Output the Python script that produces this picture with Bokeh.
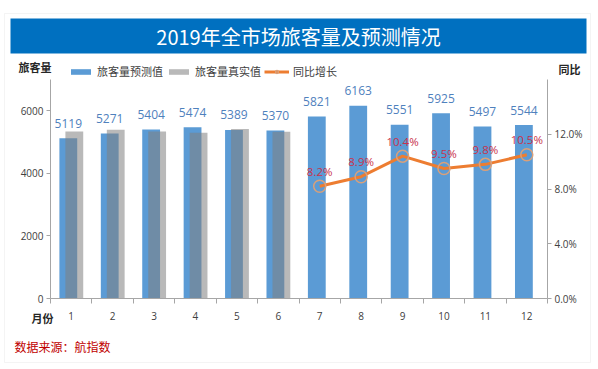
from bokeh.plotting import figure
from bokeh.models import (ColumnDataSource, Range1d, LinearAxis, FixedTicker, NumeralTickFormatter,
                          Label, BoxAnnotation, Legend, LegendItem)
from bokeh.transform import dodge
from bokeh.core.properties import value
from bokeh.embed import file_html
from bokeh.resources import INLINE

# ---- data ----
months = [1, 2, 3, 4, 5, 6, 7, 8, 9, 10, 11, 12]
forecast = [5119, 5271, 5404, 5474, 5389, 5370, 5821, 6163, 5551, 5925, 5497, 5544]
actual_months = [1, 2, 3, 4, 5, 6]
actual = [5340, 5390, 5340, 5300, 5420, 5330]
growth_months = [7, 8, 9, 10, 11, 12]
growth = [0.082, 0.089, 0.104, 0.095, 0.098, 0.105]
left_ticks = [0, 2000, 4000, 6000]
right_ticks = [0.0, 0.04, 0.08, 0.12]
left_max = 7000
right_max = 0.16

title_text = "2019年全市场旅客量及预测情况"
CJK = "Noto Sans CJK SC"
NUM = "Open Sans"
BLUE = "#5b9bd5"
GRAY = "#808080"
ORANGE = "#ed7d31"
AXIS = "#a6a6a6"
TICKTXT = "#404040"

# ---- layout geometry (pixels) ----
W, H = 598, 369
PL, PR, PT, PB = 50, 547, 79, 298   # plot area edges

xpx = (PR - PL) / 12.0
x0, x1 = 0.5 - PL / xpx, 12.5 + (W - PR) / xpx
ypx = (PB - PT) / left_max
y0, y1 = -(H - PB) / ypx, left_max + PT / ypx
r0, r1 = y0 * right_max / left_max, y1 * right_max / left_max

src_f = ColumnDataSource(dict(x=months, y=forecast, lab=[str(v) for v in forecast]))
src_a = ColumnDataSource(dict(x=actual_months, y=actual))
src_g = ColumnDataSource(dict(x=growth_months, y=growth, lab=["%.1f%%" % (v * 100) for v in growth]))

p = figure(width=W, height=H, output_backend="svg", toolbar_location=None,
           x_range=Range1d(x0, x1), y_range=Range1d(y0, y1),
           min_border=0, x_axis_location=None, y_axis_location=None)
p.extra_y_ranges = {"pct": Range1d(r0, r1)}
p.outline_line_color = None
p.xgrid.visible = False
p.ygrid.visible = False
p.background_fill_color = "white"
p.border_fill_color = "white"

# frame + title bar
p.add_layout(BoxAnnotation(left=4, right=590, top=H - 13, bottom=H - 362,
                           left_units="screen", right_units="screen",
                           top_units="screen", bottom_units="screen",
                           fill_alpha=0, line_color="#d9d9d9", line_width=1, level="underlay"))
p.add_layout(BoxAnnotation(left=10, right=586, top=H - 18, bottom=H - 53,
                           left_units="screen", right_units="screen",
                           top_units="screen", bottom_units="screen",
                           fill_color="#0070c0", fill_alpha=1, line_color=None, level="underlay"))

# bars
bf = p.vbar(x=dodge("x", -0.07, range=p.x_range), top="y", width=0.43, source=src_f,
            fill_color=BLUE, line_color=None)
ba = p.vbar(x=dodge("x", 0.075, range=p.x_range), top="y", width=0.43, source=src_a,
            fill_color=GRAY, fill_alpha=0.55, line_color=None)

# growth line
gl = p.line(x="x", y="y", source=src_g, y_range_name="pct", line_color=ORANGE, line_width=3)
gc = p.scatter(x="x", y="y", source=src_g, y_range_name="pct", marker="circle", size=12,
               fill_alpha=0, line_color="#d9a07a", line_width=1.5)

# value labels
p.text(x=dodge("x", -0.07, range=p.x_range), y="y", text="lab", source=src_f,
       text_font=value(NUM), text_font_size="12px", text_color="#4f81bd",
       text_align="center", text_baseline="middle", y_offset=-15)
p.text(x="x", y="y", text="lab", source=src_g, y_range_name="pct",
       text_font=value(NUM), text_font_size="11.5px", text_color="#c8324b",
       text_align="center", text_baseline="middle", y_offset=-15)

# axes (fixed inside the frame)
xa = LinearAxis(fixed_location=0, bounds=(0.5, 12.5),
                ticker=FixedTicker(ticks=months, minor_ticks=[m - 0.5 for m in months] + [12.5]))
xa.major_tick_out = 0
xa.major_tick_in = 0
xa.major_tick_line_color = None
xa.minor_tick_out = 5
xa.minor_tick_in = 0
xa.minor_tick_line_color = AXIS
xa.axis_line_color = AXIS
xa.major_label_standoff = 8
xa.major_label_text_font = NUM
xa.major_label_text_font_size = "10px"
xa.major_label_text_color = TICKTXT
p.add_layout(xa, "below")

ya = LinearAxis(fixed_location=0.5, bounds=(0, left_max), ticker=FixedTicker(ticks=left_ticks))
ya.major_tick_out = 4
ya.major_tick_in = 0
ya.minor_tick_line_color = None
ya.axis_line_color = AXIS
ya.major_tick_line_color = AXIS
ya.major_label_standoff = 3
ya.major_label_text_font = NUM
ya.major_label_text_font_size = "10px"
ya.major_label_text_color = TICKTXT
p.add_layout(ya, "left")

ra = LinearAxis(y_range_name="pct", fixed_location=12.5, bounds=(0, right_max),
                ticker=FixedTicker(ticks=right_ticks),
                formatter=NumeralTickFormatter(format="0.0%"))
ra.major_tick_out = 4
ra.major_tick_in = 0
ra.minor_tick_line_color = None
ra.axis_line_color = AXIS
ra.major_tick_line_color = AXIS
ra.major_label_standoff = 3
ra.major_label_text_font = NUM
ra.major_label_text_font_size = "10px"
ra.major_label_text_color = TICKTXT
p.add_layout(ra, "right")

# legend
legend = Legend(items=[LegendItem(label="旅客量预测值", renderers=[bf]),
                       LegendItem(label="旅客量真实值", renderers=[ba]),
                       LegendItem(label="同比增长", renderers=[gl, gc])],
                orientation="horizontal", location=(68, H - 79),
                padding=0, margin=0, spacing=3, label_standoff=4,
                glyph_width=25, glyph_height=7, label_height=14,
                label_text_font=CJK, label_text_font_size="11px", label_text_color="#404040",
                border_line_color=None, background_fill_alpha=0)
p.add_layout(legend, "center")

# texts
p.add_layout(Label(x=298, y=H - 35.5, x_units="screen", y_units="screen", text=title_text,
                   text_font=CJK, text_font_size="20px", text_color="white",
                   text_align="center", text_baseline="middle"))
p.add_layout(Label(x=18, y=H - 66, x_units="screen", y_units="screen", text="旅客量",
                   text_font=CJK, text_font_size="11px", text_font_style="bold",
                   text_color="#262626", text_align="left", text_baseline="middle"))
p.add_layout(Label(x=558, y=H - 68.5, x_units="screen", y_units="screen", text="同比",
                   text_font=CJK, text_font_size="11px", text_font_style="bold",
                   text_color="#262626", text_align="left", text_baseline="middle"))
p.add_layout(Label(x=31, y=H - 317, x_units="screen", y_units="screen", text="月份",
                   text_font=CJK, text_font_size="11px", text_font_style="bold",
                   text_color="#262626", text_align="left", text_baseline="middle"))
p.add_layout(Label(x=14, y=H - 346, x_units="screen", y_units="screen", text="数据来源：航指数",
                   text_font=CJK, text_font_size="12px",
                   text_color="#c00000", text_align="left", text_baseline="middle"))

open("out.html", "w").write(file_html(p, INLINE))
